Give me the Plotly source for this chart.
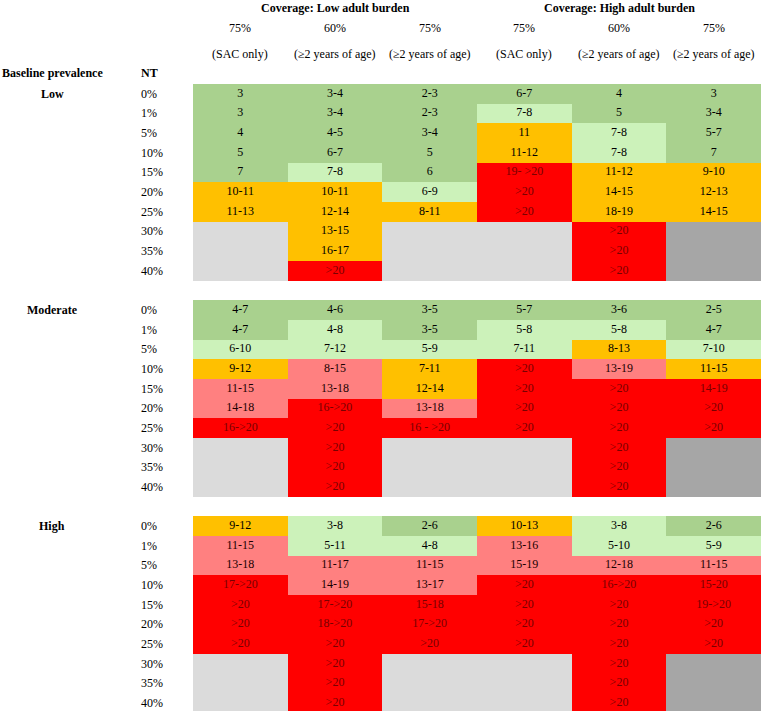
import plotly.graph_objects as go

# ---------------- data ----------------
coverage_groups = ["Coverage: Low adult burden", "Coverage: High adult burden"]
column_line1 = ["75%", "60%", "75%", "75%", "60%", "75%"]
column_line2 = ["(SAC only)", "(≥2 years of age)", "(≥2 years of age)",
                "(SAC only)", "(≥2 years of age)", "(≥2 years of age)"]
nt_levels = ["0%", "1%", "5%", "10%", "15%", "20%", "25%", "30%", "35%", "40%"]
prevalence_levels = ["Low", "Moderate", "High"]

low_years = [
    ["3", "3-4", "2-3", "6-7", "4", "3"],
    ["3", "3-4", "2-3", "7-8", "5", "3-4"],
    ["4", "4-5", "3-4", "11", "7-8", "5-7"],
    ["5", "6-7", "5", "11-12", "7-8", "7"],
    ["7", "7-8", "6", "19- >20", "11-12", "9-10"],
    ["10-11", "10-11", "6-9", ">20", "14-15", "12-13"],
    ["11-13", "12-14", "8-11", ">20", "18-19", "14-15"],
    ["", "13-15", "", "", ">20", ""],
    ["", "16-17", "", "", ">20", ""],
    ["", ">20", "", "", ">20", ""],
]
low_class = [
    ["DG", "DG", "DG", "DG", "DG", "DG"],
    ["DG", "DG", "DG", "LG", "DG", "DG"],
    ["DG", "DG", "DG", "O", "LG", "DG"],
    ["DG", "DG", "DG", "O", "LG", "DG"],
    ["DG", "LG", "DG", "R", "O", "O"],
    ["O", "O", "LG", "R", "O", "O"],
    ["O", "O", "O", "R", "O", "O"],
    ["G", "O", "G", "G", "R", "D"],
    ["G", "O", "G", "G", "R", "D"],
    ["G", "R", "G", "G", "R", "D"],
]

moderate_years = [
    ["4-7", "4-6", "3-5", "5-7", "3-6", "2-5"],
    ["4-7", "4-8", "3-5", "5-8", "5-8", "4-7"],
    ["6-10", "7-12", "5-9", "7-11", "8-13", "7-10"],
    ["9-12", "8-15", "7-11", ">20", "13-19", "11-15"],
    ["11-15", "13-18", "12-14", ">20", ">20", "14-19"],
    ["14-18", "16->20", "13-18", ">20", ">20", ">20"],
    ["16->20", ">20", "16 - >20", ">20", ">20", ">20"],
    ["", ">20", "", "", ">20", ""],
    ["", ">20", "", "", ">20", ""],
    ["", ">20", "", "", ">20", ""],
]
moderate_class = [
    ["DG", "DG", "DG", "DG", "DG", "DG"],
    ["DG", "LG", "DG", "LG", "LG", "DG"],
    ["LG", "LG", "LG", "LG", "O", "LG"],
    ["O", "P", "O", "R", "P", "O"],
    ["P", "P", "O", "R", "R", "R"],
    ["P", "R", "P", "R", "R", "R"],
    ["R", "R", "R", "R", "R", "R"],
    ["G", "R", "G", "G", "R", "D"],
    ["G", "R", "G", "G", "R", "D"],
    ["G", "R", "G", "G", "R", "D"],
]

high_years = [
    ["9-12", "3-8", "2-6", "10-13", "3-8", "2-6"],
    ["11-15", "5-11", "4-8", "13-16", "5-10", "5-9"],
    ["13-18", "11-17", "11-15", "15-19", "12-18", "11-15"],
    ["17->20", "14-19", "13-17", ">20", "16->20", "15-20"],
    [">20", "17->20", "15-18", ">20", ">20", "19->20"],
    [">20", "18->20", "17->20", ">20", ">20", ">20"],
    [">20", ">20", ">20", ">20", ">20", ">20"],
    ["", ">20", "", "", ">20", ""],
    ["", ">20", "", "", ">20", ""],
    ["", ">20", "", "", ">20", ""],
]
high_class = [
    ["O", "LG", "DG", "O", "LG", "DG"],
    ["P", "LG", "LG", "P", "LG", "LG"],
    ["P", "P", "P", "P", "P", "P"],
    ["R", "P", "P", "R", "R", "R"],
    ["R", "R", "R", "R", "R", "R"],
    ["R", "R", "R", "R", "R", "R"],
    ["R", "R", "R", "R", "R", "R"],
    ["G", "R", "G", "G", "R", "D"],
    ["G", "R", "G", "G", "R", "D"],
    ["G", "R", "G", "G", "R", "D"],
]

# ---------------- styles ----------------
class_order = ["DG", "LG", "O", "P", "R", "G", "D"]
class_fill = {"DG": "#A9D18E", "LG": "#CCF2BA", "O": "#FFC000", "P": "#FF8080",
              "R": "#FF0000", "G": "#DBDBDB", "D": "#A6A6A6"}
class_text = {"DG": "#000000", "LG": "#000000", "O": "#000000", "P": "#1A0000",
              "R": "#780000", "G": "#000000", "D": "#000000"}
FONT = "Liberation Serif, Times New Roman, serif"

blocks = [(low_years, low_class), (moderate_years, moderate_class), (high_years, high_class)]
n_cols = len(column_line1)

z, tx, ty, tt, tc = [], [], [], [], []
block_start_rows = []
row_labels = []
row = 0
for b, (years, cls) in enumerate(blocks):
    if b > 0:
        z.append([None] * n_cols)
        row += 1
    block_start_rows.append(row)
    for r in range(len(nt_levels)):
        z.append([class_order.index(c) for c in cls[r]])
        row_labels.append((row, nt_levels[r]))
        for c in range(n_cols):
            tx.append(c)
            ty.append(row)
            tt.append(years[r][c])
            tc.append(class_text[cls[r][c]])
        row += 1

n = len(class_order)
colorscale = []
for k, name in enumerate(class_order):
    colorscale.append([k / n, class_fill[name]])
    colorscale.append([(k + 1) / n, class_fill[name]])

fig = go.Figure()
fig.add_trace(go.Heatmap(
    z=z, x=list(range(n_cols)), y=list(range(len(z))),
    colorscale=colorscale, zmin=-0.5, zmax=n - 0.5,
    showscale=False, hoverinfo="skip", xgap=0, ygap=0,
))
fig.add_trace(go.Scatter(
    x=tx, y=ty, text=tt, mode="text",
    textfont=dict(family=FONT, size=12, color=tc),
    hoverinfo="skip", showlegend=False,
))

# ---------------- layout ----------------
W, H = 762, 711
L, R, T, B = 193, 1, 84, 0
plot_w, plot_h = W - L - R, H - T - B


def px_x(p):
    return (p - L) / plot_w


def px_y(p):
    return (H - B - p) / plot_h


def txt(**kw):
    d = dict(showarrow=False, xanchor="center", yanchor="middle",
             font=dict(family=FONT, size=12, color="#000"))
    d.update(kw)
    return d


ann = []
for g, label in enumerate(coverage_groups):
    ann.append(txt(x=1 + 3 * g, xref="x", y=px_y(8), yref="paper",
                   text="<b>" + label + "</b>"))
for c in range(n_cols):
    ann.append(txt(x=c, xref="x", y=px_y(28), yref="paper", text=column_line1[c]))
    ann.append(txt(x=c, xref="x", y=px_y(54), yref="paper", text=column_line2[c]))
ann.append(txt(x=px_x(52), xref="paper", y=px_y(73), yref="paper",
               text="<b>Baseline prevalence</b>"))
ann.append(txt(x=px_x(139), xref="paper", y=px_y(73), yref="paper", xanchor="left",
               text="<b>NT</b>"))
for rr, lab in row_labels:
    ann.append(txt(x=px_x(139), xref="paper", y=rr, yref="y", xanchor="left", text=lab))
for start, lab in zip(block_start_rows, prevalence_levels):
    ann.append(txt(x=px_x(52), xref="paper", y=start, yref="y", text="<b>" + lab + "</b>"))

row_h = 19.65
y_bottom = plot_h / row_h - 0.5

fig.update_layout(
    width=W, height=H,
    margin=dict(l=L, r=R, t=T, b=B, pad=0),
    paper_bgcolor="white", plot_bgcolor="white",
    xaxis=dict(range=[-0.5, n_cols - 0.5], visible=False, fixedrange=True),
    yaxis=dict(range=[y_bottom, -0.5], visible=False, fixedrange=True),
    annotations=ann,
    showlegend=False,
)

fig.write_html(
    "out.html",
    config={"displayModeBar": False},
    post_script="document.body.style.margin='0';document.body.style.overflow='hidden';",
)
